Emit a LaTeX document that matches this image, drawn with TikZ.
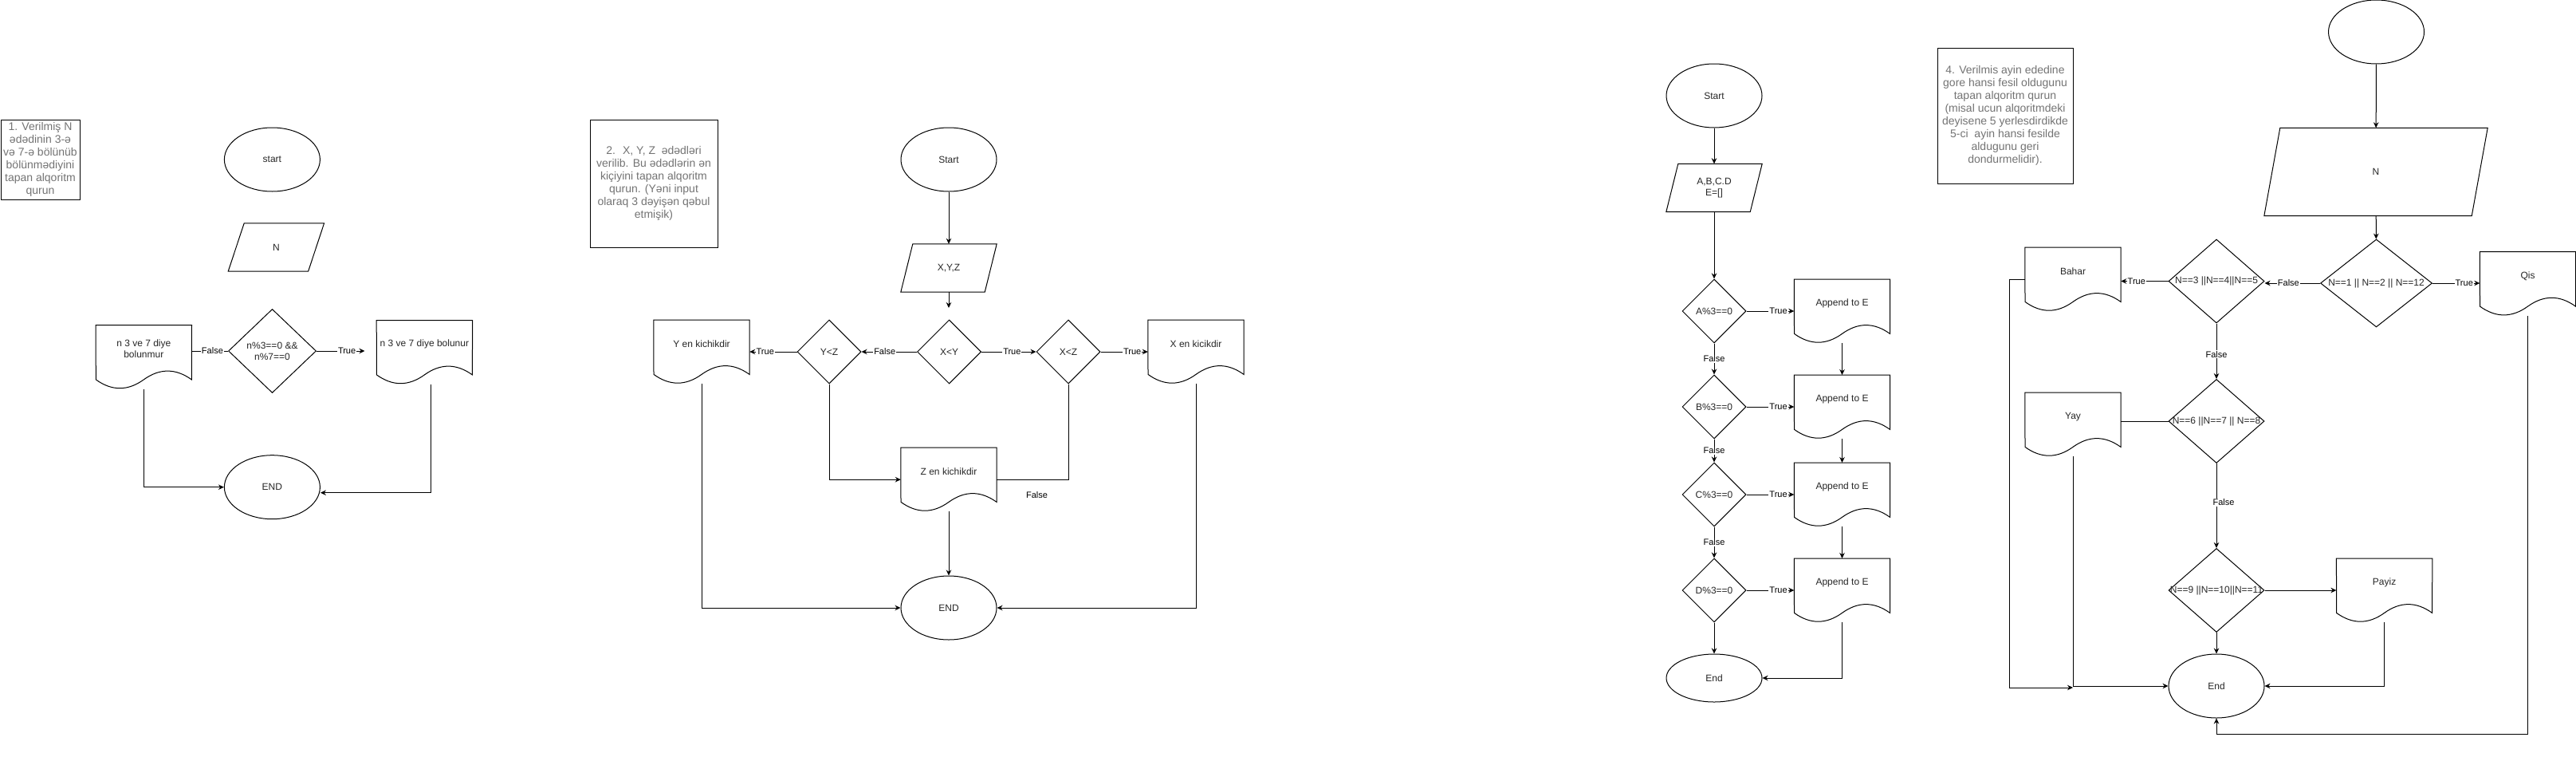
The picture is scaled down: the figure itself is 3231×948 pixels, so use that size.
\documentclass[tikz,border=0pt]{standalone}
\usepackage{fontspec}
\setmainfont{Liberation Sans}
\usetikzlibrary{arrows.meta,shapes.geometric}

% document outline round a docbox node
\newcommand\docshape[1]{%
  \draw[wire] (#1.north west) -- (#1.north east) -- ([shift={(60,8)}]#1.south)
    .. controls ([shift={(40,-6.4)}]#1.south) and ([shift={(20,-6.4)}]#1.south) .. ([shift={(0,8)}]#1.south)
    .. controls ([shift={(-20,22.4)}]#1.south) and ([shift={(-40,22.4)}]#1.south) .. ([shift={(-60,8)}]#1.south) -- cycle;
  \coordinate (#1-s) at ([shift={(0,20)}]#1.south);
}
% parallelogram round an io node
\newcommand\ioshape[2]{%
  \draw[wire] ([xshift=#2]#1.north west) -- (#1.north east) -- ([xshift=-#2]#1.south east) -- (#1.south west) -- cycle;
}
\newcommand\cond[1]{\makebox[0pt]{#1}}

\begin{document}
\begin{tikzpicture}[x=1pt,y=-1pt,
    every node/.style={font=\fontsize{12}{14}\selectfont,text=black!85},
    wire/.style={line width=1pt},
    arr/.style={wire,-{Stealth[length=7pt,width=6.5pt]}},
    term/.style={ellipse,draw,line width=1pt,inner sep=0pt,minimum width=120pt,minimum height=80pt},
    io/.style={rectangle,inner sep=0pt,minimum width=120pt,minimum height=60pt,align=center},
    dec/.style={diamond,draw,line width=1pt,inner sep=0pt,align=center},
    docbox/.style={rectangle,anchor=north,inner sep=0pt,minimum width=120pt,minimum height=60pt,align=center},
    taskbox/.style={rectangle,draw,line width=1pt,inner sep=0pt,align=center,text=tasktext,font=\fontsize{14}{16}\selectfont},
    lbl/.style={fill=white,inner sep=1pt,text=black,font=\fontsize{11}{13}\selectfont}]
  \colorlet{tasktext}{black!55}
  \useasboundingbox (0,0) rectangle (3231,948);

  % task 1
  \node[taskbox,minimum width=99pt,minimum height=100pt] (task1) at (50.5,200)
    {1. Verilmiş N\\ədədinin 3-ə\\və 7-ə bölünüb\\bölünmədiyini\\tapan alqoritm\\qurun};
  \node[term] (s1start) at (341.4,200) {start};
  \node[io] (s1in) at (346.4,310) {N};
  \ioshape{s1in}{20pt}
  \node[dec,minimum width=110pt,minimum height=105pt] (s1dec) at (341.5,440) {n\%3==0 \&\&\\n\%7==0};
  \node[docbox] (s1no) at (180.3,407.5) {n 3 ve 7 diye\\bolunmur};
  \docshape{s1no}
  \node[docbox] (s1yes) at (532.4,401.5) {n 3 ve 7 diye bolunur};
  \docshape{s1yes}
  \node[term] (s1end) at (341.4,610.7) {END};
  \coordinate (s1gap) at (457.5,440);
  \draw[wire] (s1dec.west) -- (s1dec.west -| s1no.east) node[lbl,pos=0.43] (s1f) {False};
  \draw[arr] (s1dec.east) -- (s1gap) node[lbl,pos=0.63] (s1t) {True};
  \draw[arr] (s1no-s) |- (s1end);
  \draw[arr] ([xshift=8pt]s1yes-s) |- ([yshift=-7pt]s1end.east);

  % task 2
  \node[taskbox,minimum width=160pt,minimum height=160pt] (task2) at (820,230)
    {2.~ X, Y, Z~ ədədləri\\verilib. Bu ədədlərin ən\\kiçiyini tapan alqoritm\\qurun. (Yəni input\\olaraq 3 dəyişən qəbul\\etmişik)};
  \node[term] (s2start) at (1190,200) {Start};
  \node[io] (s2in) at (1190,336) {X,Y,Z};
  \ioshape{s2in}{15pt}
  \coordinate (s2gap) at (1190,386);
  \node[dec,minimum width=80pt,minimum height=80pt] (xy) at (1190.5,441) {X<Y};
  \node[dec,minimum width=80pt,minimum height=80pt] (yz) at (1040,441) {Y<Z};
  \node[dec,minimum width=80pt,minimum height=80pt] (xz) at (1340,441) {X<Z};
  \node[docbox] (ydoc) at (880,401) {Y en kichikdir};
  \docshape{ydoc}
  \node[docbox] (xdoc) at (1500,401) {X en kicikdir};
  \docshape{xdoc}
  \node[docbox] (zdoc) at (1190,561) {Z en kichikdir};
  \docshape{zdoc}
  \node[term] (s2end) at (1190,762) {END};
  \draw[arr] (s2start) -- (s2in);
  \draw[arr] (s2in) -- (s2gap);
  \draw[arr] (xy) -- (yz) node[lbl,pos=0.58] (s2f) {False};
  \draw[arr] (yz) -- (yz.west -| ydoc.east) node[lbl,pos=0.67] (s2t1) {True};
  \draw[arr] (xy) -- (xz) node[lbl,pos=0.56] (s2t2) {True};
  \draw[arr] (xz) -- (xz.east -| xdoc.west) node[lbl,pos=0.67] (s2t3) {True};
  \draw[arr] (yz.south) |- ([yshift=-10pt]zdoc.west);
  \draw[wire] (xz.south) |- ([yshift=-10pt]zdoc.east) node[lbl,pos=0.72,yshift=-19pt] (s2f2) {False};
  \draw[arr] (zdoc-s) -- (s2end);
  \draw[arr] (ydoc-s) |- (s2end);
  \draw[arr] (xdoc-s) |- (s2end);

  % task 3
  \node[term] (s3start) at (2150,120) {Start};
  \node[io] (s3in) at (2150,235.5) {A,B,C.D\\E=[]};
  \ioshape{s3in}{15pt}
  \node[term,minimum height=60pt] (s3end) at (2150,850) {End};
  \foreach \nm/\y in {A/390,B/510,C/620,D/740} {
    \node[dec,minimum width=80pt,minimum height=80pt] (d\nm) at (2150,\y) {\nm\%3==0};
    \node[docbox] (e\nm) at (2310.5,\y-40) {Append to E};
    \docshape{e\nm}
    \draw[arr] (d\nm) -- (d\nm.east -| e\nm.west) node[lbl,pos=0.67] (t\nm) {True};
  }
  \draw[arr] (s3start) -- (s3in);
  \draw[arr] (s3in) -- (dA);
  \foreach \a/\b in {A/B,B/C,C/D} {
    \draw[arr] (d\a) -- (d\b) node[lbl,midway] (f\a) {False};
    \draw[arr] (e\a-s) -- (e\b);
  }
  \draw[arr] (dD) -- (s3end);
  \draw[arr] (eD-s) |- (s3end);

  % task 4
  \node[taskbox,minimum width=170pt,minimum height=170pt] (task4) at (2515,145)
    {4. Verilmis ayin ededine\\gore hansi fesil oldugunu\\tapan alqoritm qurun\\(misal ucun alqoritmdeki\\deyisene 5 yerlesdirdikde\\5-ci~ ayin hansi fesilde\\aldugunu geri\\dondurmelidir).};
  \node[term] (s4start) at (2980.5,40) {};
  \node[io,minimum width=280pt,minimum height=110pt] (s4in) at (2980,215.5) {N};
  \ioshape{s4in}{20pt}
  \node[dec,minimum width=140pt,minimum height=110pt] (q1) at (2980.5,355) {\cond{N==1 || N==2 || N==12}};
  \node[dec,minimum width=120pt,minimum height=105pt] (q2) at (2780,352.5) {\cond{N==3 ||N==4||N==5}};
  \node[dec,minimum width=120pt,minimum height=105pt] (q3) at (2780,528) {\cond{N==6 ||N==7 || N==8}};
  \node[dec,minimum width=120pt,minimum height=105pt] (q4) at (2780,740) {\cond{N==9 ||N==10||N==11}};
  \node[docbox] (bahar) at (2600,310) {Bahar};
  \docshape{bahar}
  \node[docbox] (qis) at (3170.5,315.7) {Qis};
  \docshape{qis}
  \node[docbox] (yay) at (2600,492) {Yay};
  \docshape{yay}
  \node[docbox] (payiz) at (2990.6,700) {Payiz};
  \docshape{payiz}
  \node[term] (s4end) at (2780,860) {End};
  \coordinate (s4c) at (2520.7,862);
  \coordinate (s4low) at (2780,920);
  \draw[arr] (s4start) -- (s4in);
  \draw[arr] (s4in) -- (q1);
  \draw[arr] (q1.west) -- (q1.west -| q2.east) node[lbl,pos=0.57] (g1) {False};
  \draw[arr] (q2.west) -- (q2.west -| bahar.east) node[lbl,pos=0.67] (g2) {True};
  \draw[arr] (q1.east) -- (q1.east -| qis.west) node[lbl,pos=0.67] (g3) {True};
  \draw[arr] (q2) -- (q3) node[lbl,pos=0.56] (g4) {False};
  \draw[arr] (q3) -- (q4) node[lbl,pos=0.46,xshift=9pt] (g5) {False};
  \draw[wire] (q3.west) -- (q3.west -| yay.east);
  \draw[arr] (q4.east) -- (q4.east -| payiz.west);
  \draw[arr] (q4) -- (s4end);
  \draw[arr] (payiz-s) |- (s4end);
  \draw[arr] (yay-s) |- (s4end);
  \draw[arr] ([yshift=-10pt]bahar.west) -| (s4c) -- (yay-s |- s4c);
  \draw[arr] (qis-s) |- (s4low) -- (s4end);
\end{tikzpicture}
\end{document}
